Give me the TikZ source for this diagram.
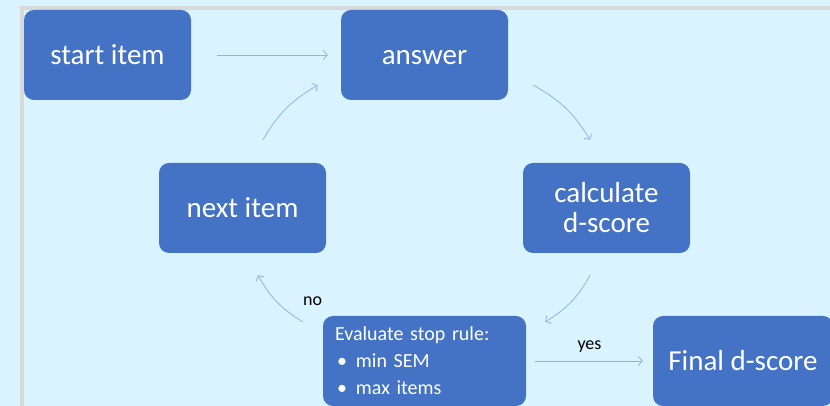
\documentclass[tikz,border=0pt]{standalone}
\usepackage{fontspec}
\setmainfont{Carlito}
\usetikzlibrary{arrows.meta}
\definecolor{bg}{HTML}{D9F4FF}
\definecolor{boxblue}{HTML}{4472C4}
\definecolor{flowblue}{HTML}{8EB4E3}
\definecolor{framegray}{HTML}{D9D9D9}

\begin{document}
\begin{tikzpicture}[x=1pt,y=1pt,
    block/.style={fill=boxblue, rounded corners=10pt, minimum width=167pt, minimum height=90pt,
      inner sep=0pt, text=white, align=center, font=\fontsize{29}{30}\selectfont},
    flow/.style={draw=flowblue, line width=0.8pt, -{Straight Barb[length=4pt,width=9pt]}},
    lbl/.style={font=\fontsize{18}{20}\selectfont, text=black, inner sep=0pt}]
	\useasboundingbox (0,0) rectangle (830,406);
	\clip (0,0) rectangle (830,406);
	\fill [bg] (0,0) rectangle (830,406);
	\draw [framegray, line width=4pt] (22,-2) -- (22,398) -- (832,398);
	% boxes
	\node [block] (start) at (107.5,351) {start item};
	\node [block] (answer) at (424.5,351) {\vphantom{ti}answer};
	\node [block] (calc) at (606.5,198) {calculate\\d-score};
	\node [block] (next) at (242.5,198) {next item};
	\node [block, minimum width=203pt, text width=179pt, align=left, font=\fontsize{20}{27}\selectfont] (eval) at (424.5,45)
		{Evaluate stop rule:\\ \hspace{2pt}\textbullet\hspace{9pt}min SEM\\ \hspace{2pt}\textbullet\hspace{9pt}max items};
	\node [block, minimum width=180pt] (final) at (743,45) {Final d-score};
	% arrows
	\draw [flow, shorten <=26pt, shorten >=13pt] (start) -- (answer);
	\draw [flow] ([xshift=25pt,yshift=15pt]answer.south east) to[bend left=15] ([xshift=-16.5pt,yshift=23pt]calc.north);
	\draw [flow] ([xshift=-16.5pt,yshift=-22pt]calc.south) to[bend left=15] ([xshift=19pt,yshift=-6pt]eval.north east);
	\draw [flow] ([xshift=-20pt,yshift=-6pt]eval.north west)
		node [lbl, anchor=south west, yshift=16pt] (no) {no}
		to[bend left=15] ([xshift=15.5pt,yshift=-22pt]next.south);
	\draw [flow] ([xshift=20.5pt,yshift=23pt]next.north) to[bend left=15] ([xshift=-23pt,yshift=15pt]answer.south west);
	\draw [flow, shorten <=9pt, shorten >=10pt] (eval) -- node [lbl, above=8pt] (yes) {yes} (final);
\end{tikzpicture}
\end{document}
